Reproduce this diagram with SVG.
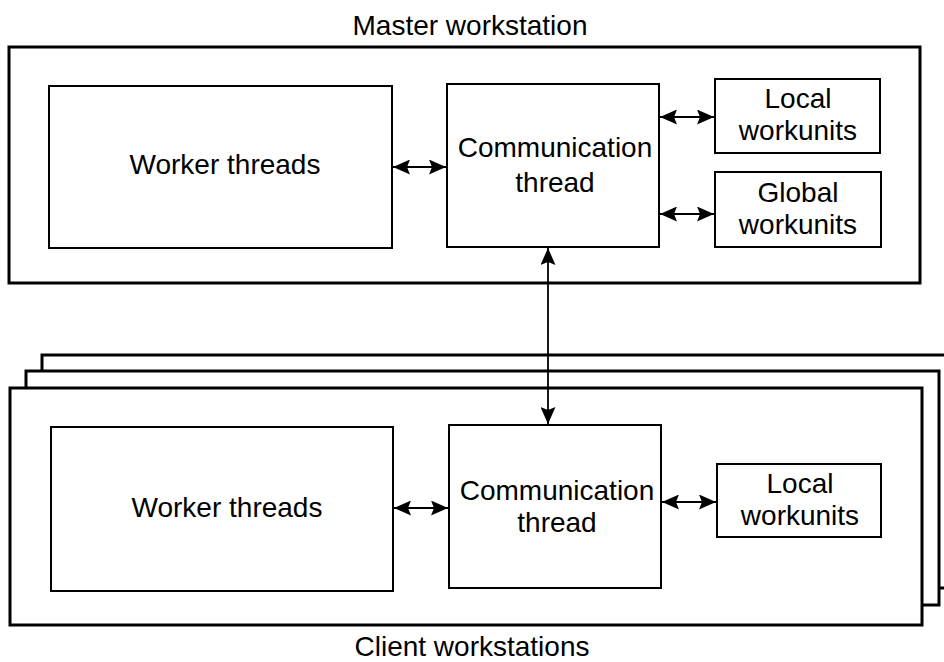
<svg xmlns="http://www.w3.org/2000/svg" width="944" height="662" viewBox="0 0 944 662">
  <defs>
    <style>
      .frame { fill: #fff; stroke: #000; stroke-width: 3; }
      .box { fill: #fff; stroke: #000; stroke-width: 2; }
      .label { font-family: "Liberation Sans", Arial, sans-serif; font-size: 28px; fill: #000; text-anchor: middle; }
      .link { stroke: #000; stroke-width: 1.8; fill: none; marker-start: url(#head); marker-end: url(#head); }
    </style>
    <marker id="head" viewBox="0 0 17 15" refX="17" refY="7.5" markerWidth="17" markerHeight="15" markerUnits="userSpaceOnUse" orient="auto-start-reverse">
      <path d="M0,0 L17,7.5 L0,15 L3,7.5 z" fill="#000"/>
    </marker>
  </defs>
  <rect width="944" height="662" fill="#fff"/>

  <!-- Master workstation -->
  <g id="master">
    <text class="label" x="470" y="35">Master workstation</text>
    <rect class="frame" x="9" y="47" width="911" height="236"/>
  </g>
  <g id="master-workers">
    <rect class="box" x="49" y="86" width="343" height="162"/>
    <text class="label" x="225" y="174">Worker threads</text>
  </g>
  <g id="master-comm">
    <rect class="box" x="447" y="84" width="212" height="163"/>
    <text class="label" x="555" y="157">Communication</text>
    <text class="label" x="555" y="192">thread</text>
  </g>
  <g id="master-local">
    <rect class="box" x="715" y="79" width="165" height="74"/>
    <text class="label" x="798" y="108">Local</text>
    <text class="label" x="798" y="140">workunits</text>
  </g>
  <g id="master-global">
    <rect class="box" x="715" y="172" width="166" height="75"/>
    <text class="label" x="798" y="202">Global</text>
    <text class="label" x="798" y="234">workunits</text>
  </g>

  <!-- Client workstations (stacked) -->
  <g id="clients">
    <rect class="frame" x="42" y="355" width="920" height="233"/>
    <rect class="frame" x="26" y="371" width="913" height="234"/>
    <rect class="frame" x="10" y="388" width="912" height="237"/>
    <text class="label" x="472" y="656">Client workstations</text>
  </g>
  <g id="client-workers">
    <rect class="box" x="51" y="427" width="342" height="164"/>
    <text class="label" x="227" y="517">Worker threads</text>
  </g>
  <g id="client-comm">
    <rect class="box" x="449" y="425" width="212" height="163"/>
    <text class="label" x="557" y="500">Communication</text>
    <text class="label" x="557" y="532">thread</text>
  </g>
  <g id="client-local">
    <rect class="box" x="717" y="464" width="164" height="73"/>
    <text class="label" x="800" y="493">Local</text>
    <text class="label" x="800" y="525">workunits</text>
  </g>

  <!-- Connectors -->
  <g id="connectors">
    <line class="link" x1="393" y1="167" x2="446" y2="167"/>
    <line class="link" x1="660" y1="117" x2="714" y2="117"/>
    <line class="link" x1="660" y1="214" x2="714" y2="214"/>
    <line class="link" x1="548" y1="248" x2="548" y2="424"/>
    <line class="link" x1="394" y1="508" x2="448" y2="508"/>
    <line class="link" x1="662" y1="502" x2="716" y2="502"/>
  </g>
</svg>
